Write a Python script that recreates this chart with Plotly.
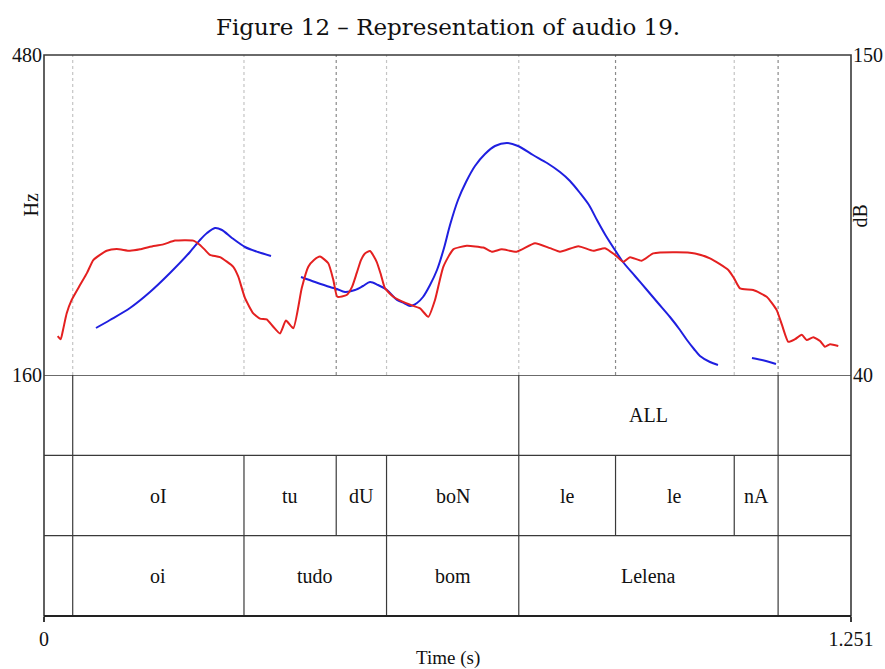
import plotly.graph_objects as go

# ---- time axis ----
T_END = 1.251
x_tick_vals = [0, T_END]
x_tick_text = ["0", "1.251"]

# ---- pitch contour (Hz), gaps separated by None ----
pitch_t = [0.0806, 0.1023, 0.1333, 0.1643, 0.1953, 0.2263, 0.2418, 0.2527, 0.2651, 0.2759,
           0.2914, 0.3116, 0.3317, 0.3519, None,
           0.3984, 0.4201, 0.4433, 0.4542, 0.4666, 0.4821, 0.4945, 0.5054, 0.5178, 0.5317,
           0.5472, 0.5581, 0.5674, 0.5782, 0.5875, 0.5984, 0.6092, 0.6201, 0.6294, 0.6418,
           0.6542, 0.6681, 0.6836, 0.6991, 0.7177, 0.7348, 0.7581, 0.7798, 0.7999, 0.8154,
           0.8309, 0.8448, 0.8572, 0.8712, 0.8851, 0.8975, 0.9161, 0.9347, 0.9518, 0.9704,
           0.9859, 0.9967, 1.0076, 1.0169, 1.0324, 1.0448, None,
           1.0975, 1.1161, 1.1347]
pitch_hz = [207, 215, 227, 243, 262, 283, 295, 302, 307, 305,
            297, 288, 283, 279, None,
            258, 253, 248, 246, 243, 245, 249, 253, 250, 245,
            235, 232, 229, 232, 238, 250, 265, 287, 310, 335,
            353, 369, 381, 389, 392, 389, 380, 372, 363, 354,
            342, 330, 315, 299, 285, 273, 259, 245, 232, 218,
            205, 195, 186, 179, 173, 170, None,
            177, 174.5, 171]

# ---- intensity contour (dB) ----
inten_t = [0.0212, 0.0259, 0.0295, 0.0352, 0.0429, 0.0558, 0.0667, 0.0764, 0.0868, 0.0972,
           0.1127, 0.1333, 0.1488, 0.1643, 0.1849, 0.2031, 0.2314, 0.2418, 0.2496, 0.2573,
           0.2728, 0.2934, 0.3012, 0.3116, 0.3244, 0.3348, 0.3452, 0.3554, 0.3658, 0.3751,
           0.3865, 0.3995, 0.4097, 0.4185, 0.4279, 0.4407, 0.4485, 0.4547, 0.4692, 0.4775,
           0.4847, 0.4914, 0.4976, 0.5054, 0.5157, 0.5224, 0.5286, 0.5415, 0.5622, 0.5829,
           0.5957, 0.6061, 0.6190, 0.6345, 0.6553, 0.6810, 0.6940, 0.7095, 0.7328, 0.7611,
           0.7844, 0.7999, 0.8283, 0.8515, 0.8696, 0.8851, 0.8980, 0.9084, 0.9265, 0.9445,
           0.9808, 1.0092, 1.0324, 1.0608, 1.0696, 1.0789, 1.0995, 1.1203, 1.1358, 1.1440,
           1.1538, 1.1642, 1.1746, 1.1823, 1.1926, 1.2030, 1.2107, 1.2185, 1.2313]
inten_db = [53.4, 52.3, 55.5, 61.2, 65.8, 70.9, 75.1, 79.5, 81.3, 82.7,
            83.3, 82.7, 83.2, 84.1, 84.9, 86.2, 86.2, 84.7, 83.0, 81.3,
            80.5, 77.2, 73.8, 66.4, 61.2, 59.4, 59.1, 56.6, 54.3, 58.7,
            56.1, 69.8, 77.2, 79.5, 80.7, 78.4, 72.7, 66.9, 67.5, 70.3,
            75.0, 79.5, 81.8, 82.6, 78.9, 74.4, 69.8, 66.9, 64.6, 62.9,
            60.0, 65.8, 77.2, 83.2, 84.4, 83.8, 82.4, 83.2, 82.4, 85.3,
            83.6, 82.4, 84.3, 82.7, 83.6, 81.3, 78.9, 80.5, 79.3, 81.8,
            82.2, 81.8, 80.1, 76.1, 73.3, 69.8, 69.2, 66.9, 62.3, 57.2,
            51.4, 52.3, 53.8, 52.0, 53.0, 51.7, 49.7, 50.6, 50.0]

# ---- TextGrid tiers: (start, end, label) ----
tier_all = [(0.0, 0.0445, ""), (0.0445, 0.736, ""), (0.736, 1.138, "ALL"), (1.138, T_END, "")]
tier_syll = [(0.0, 0.0445, ""), (0.0445, 0.310, "oI"), (0.310, 0.453, "tu"), (0.453, 0.531, "dU"),
             (0.531, 0.736, "boN"), (0.736, 0.886, "le"), (0.886, 1.070, "le"),
             (1.070, 1.138, "nA"), (1.138, T_END, "")]
tier_word = [(0.0, 0.0445, ""), (0.0445, 0.310, "oi"), (0.310, 0.531, "tudo"),
             (0.531, 0.736, "bom"), (0.736, 1.138, "Lelena"), (1.138, T_END, "")]

FONT = "Liberation Serif"
FRAME = "#3a3a3a"

fig = go.Figure()
fig.add_trace(go.Scatter(x=pitch_t, y=pitch_hz, mode="lines", yaxis="y",
                         line=dict(color="#1f1fe0", width=2, shape="spline", smoothing=0.8),
                         connectgaps=False, showlegend=False, hoverinfo="skip"))
fig.add_trace(go.Scatter(x=inten_t, y=inten_db, mode="lines", yaxis="y2",
                         line=dict(color="#e42020", width=2, shape="spline", smoothing=0.5),
                         showlegend=False, hoverinfo="skip"))
# empty trace so the tier axis exists
fig.add_trace(go.Scatter(x=[None], y=[None], yaxis="y3", showlegend=False, hoverinfo="skip"))

shapes = []
annotations = []

# dotted boundary lines across the pitch panel
dark_bounds = {0.453, 0.886, 1.138}
for (t0, t1, _) in tier_syll[1:]:
    col = "#8a8a8a" if t0 in dark_bounds else "#c4c4c4"
    shapes.append(dict(type="line", xref="x", yref="y", x0=t0, x1=t0, y0=160, y1=480,
                       line=dict(color=col, width=1.2, dash="dot"), layer="below"))

# tiers: top = 2..3, middle = 1..2, bottom = 0..1
for level, tier in ((2, tier_all), (1, tier_syll), (0, tier_word)):
    for (t0, t1, lab) in tier:
        if t0 > 0:
            shapes.append(dict(type="line", xref="x", yref="y3", x0=t0, x1=t0,
                               y0=level, y1=level + 1, line=dict(color=FRAME, width=1.2)))
        if lab:
            annotations.append(dict(x=(t0 + t1) / 2, y=level + 0.5, xref="x", yref="y3",
                                    text=lab, showarrow=False,
                                    font=dict(family=FONT, size=20, color="#111111")))
for level in (1, 2, 3):
    shapes.append(dict(type="line", xref="paper", yref="y3", x0=0, x1=1, y0=level, y1=level,
                       line=dict(color=FRAME, width=1.4)))

# outer frame and heavier baseline
shapes.append(dict(type="rect", xref="paper", yref="paper", x0=0, x1=1, y0=0, y1=1,
                   line=dict(color=FRAME, width=1.6)))
shapes.append(dict(type="line", xref="paper", yref="paper", x0=0, x1=1, y0=0, y1=0,
                   line=dict(color="#222222", width=2.2)))

# axis names
annotations += [
    dict(text="Hz", xref="paper", yref="paper", x=0, y=0.756, xanchor="center",
         xshift=-13, showarrow=False, textangle=-90,
         font=dict(family=FONT, size=20, color="#111111")),
    dict(text="dB", xref="paper", yref="paper", x=1, y=0.736, xanchor="center",
         xshift=9, showarrow=False, textangle=-90,
         font=dict(family=FONT, size=20, color="#111111")),
    dict(text="Time (s)", xref="paper", yref="paper", x=0.5, y=0, yanchor="middle",
         yshift=-42, showarrow=False, font=dict(family=FONT, size=19, color="#111111")),
    dict(text="Figure 12 – Representation of audio 19.", xref="paper", yref="paper",
         x=0.5, y=1, yanchor="middle", yshift=28, showarrow=False,
         font=dict(family="DejaVu Serif", size=23, color="#111111")),
]

tick_font = dict(family=FONT, size=20, color="#111111")
fig.update_layout(
    template="none",
    width=885, height=669,
    margin=dict(l=44, r=34, t=55, b=53, autoexpand=False),
    paper_bgcolor="white", plot_bgcolor="white",
    xaxis=dict(range=[0, T_END], anchor="free", position=0, tickvals=x_tick_vals,
               ticktext=x_tick_text, ticks="outside", ticklen=5, tickcolor=FRAME,
               tickwidth=1.5, showgrid=False, zeroline=False, showline=False,
               tickfont=tick_font, automargin=False, fixedrange=True),
    yaxis=dict(domain=[241 / 561, 1], range=[160, 480], tickvals=[160, 480], ticks="",
               showgrid=False, zeroline=False, showline=False, tickfont=tick_font,
               ticklabelstandoff=1, automargin=False, fixedrange=True),
    yaxis2=dict(overlaying="y", side="right", anchor="x", range=[40, 150],
                tickvals=[40, 150], ticks="", showgrid=False, zeroline=False,
                showline=False, tickfont=tick_font, ticklabelstandoff=1,
                automargin=False, fixedrange=True),
    yaxis3=dict(domain=[0, 241 / 561], range=[0, 3], anchor="x", visible=False,
                automargin=False, fixedrange=True),
    shapes=shapes,
    annotations=annotations,
)

fig.write_html("out.html")
